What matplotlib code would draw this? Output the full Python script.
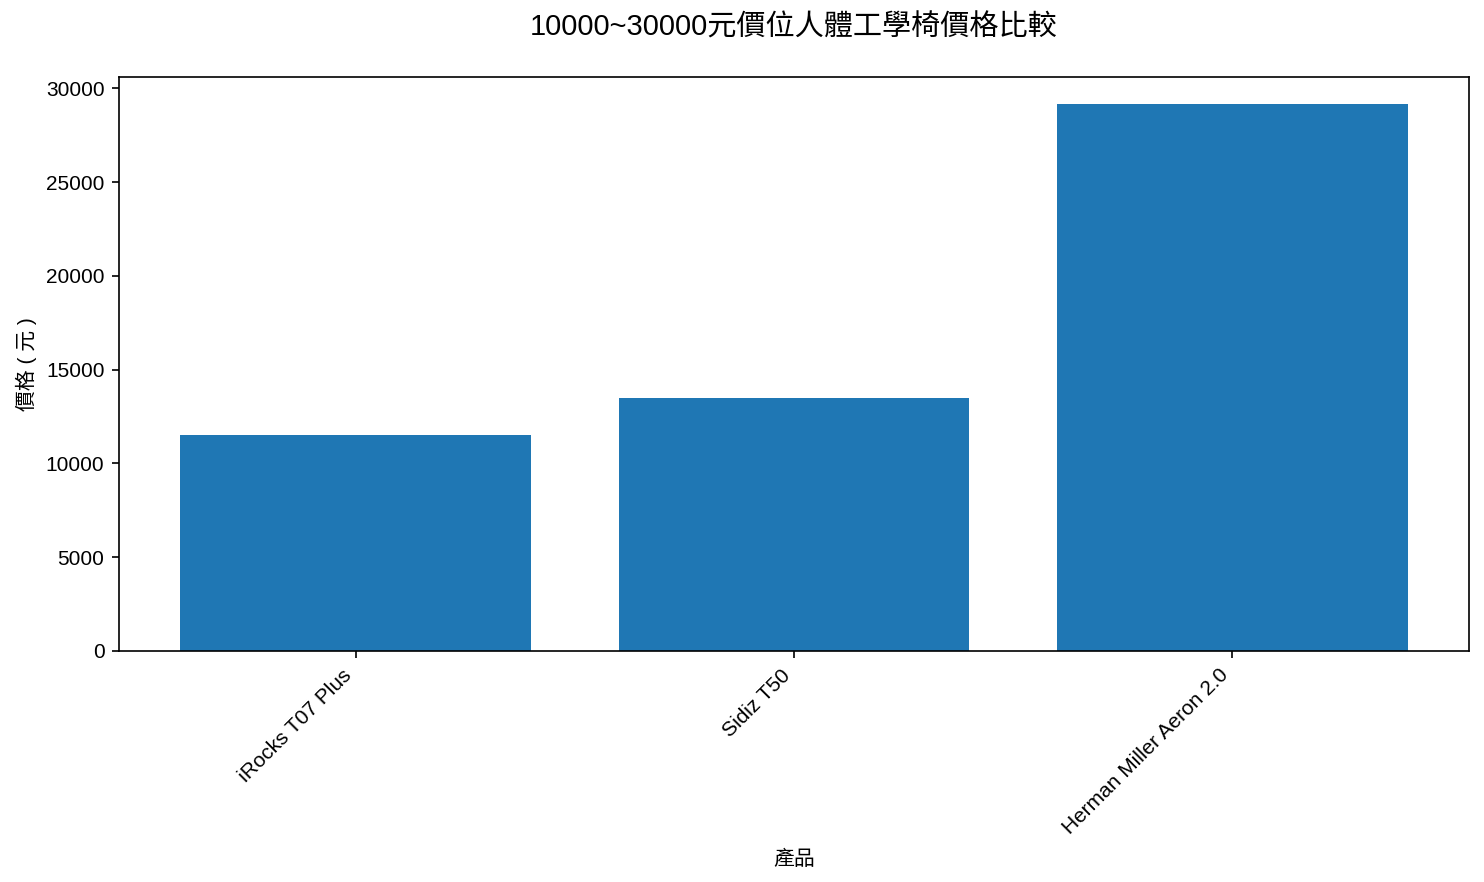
import matplotlib
matplotlib.use("Agg")
import matplotlib.pyplot as plt

products = ["iRocks T07 Plus", "Sidiz T50", "Herman Miller Aeron 2.0"]
prices = [11500, 13500, 29150]

plt.rcParams['font.family'] = ['Liberation Sans', 'Noto Sans CJK TC', 'DejaVu Sans']

fig = plt.figure(figsize=(1484 / 150, 882 / 150), dpi=150)
ax = fig.add_axes([119 / 1484, 1 - 651 / 882, (1469 - 119) / 1484, (651 - 77) / 882])

ax.bar(products, prices, color="#1f77b4", width=0.8)
ax.set_title("10000~30000元價位人體工學椅價格比較", fontsize=14, pad=20)
ax.set_xlabel("產品", fontsize=10, labelpad=5.5)
ax.set_ylabel("價格 ( 元 )", fontsize=10)
ax.tick_params(labelsize=10)
plt.setp(ax.get_xticklabels(), rotation=45, ha="right")

fig.savefig("out.png", dpi=150)
